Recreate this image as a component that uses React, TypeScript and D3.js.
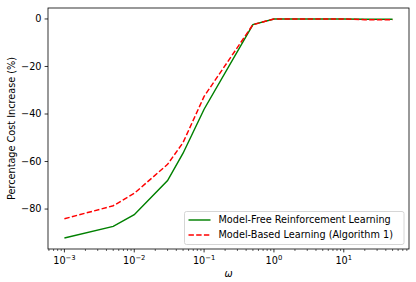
import React from 'react';
import * as d3 from 'd3';

// omega values (log axis)
const omegas = [0.001, 0.005, 0.01, 0.03, 0.05, 0.1, 0.5, 1, 5, 10, 20, 50];
// percentage cost increase per method
const modelFree = [-92.2, -87.3, -82.4, -68.0, -56.5, -38.0, -2.4, 0, 0, 0, -0.1, -0.1];
const modelBased = [-84.1, -78.6, -73.4, -61.2, -52.0, -32.6, -2.4, 0, 0, 0, -0.3, -0.3];
const seriesNames = ['Model-Free Reinforcement Learning', 'Model-Based Learning (Algorithm 1)'];
const yTicks = [0, -20, -40, -60, -80];
const xExps = [-3, -2, -1, 0, 1];

const width = 416;
const height = 282;
const left = 48, right = 409, top = 8, bottom = 249;
const font = 'DejaVu Sans';

// matplotlib style 5% margins in log space
const lx = [Math.log10(0.001), Math.log10(50)];
const lpad = (lx[1] - lx[0]) * 0.05;
const x = d3.scaleLog()
    .domain([Math.pow(10, lx[0] - lpad), Math.pow(10, lx[1] + lpad)])
    .range([left, right]);

const ymin = d3.min(modelFree)!, ymax = 0;
const ypad = (ymax - ymin) * 0.05;
const y = d3.scaleLinear()
    .domain([ymin - ypad, ymax + ypad])
    .range([bottom, top]);

const line = d3.line<[number, number]>()
    .x(d => x(d[0]))
    .y(d => y(d[1]));

const minorTicks: number[] = [];
for (let e = -4; e <= 1; e++) {
    for (let m = 2; m <= 9; m++) {
        const v = m * Math.pow(10, e);
        if (v >= x.domain()[0] && v <= x.domain()[1]) minorTicks.push(v);
    }
}

const minus = (n: number) => (n < 0 ? '\u2212' + Math.abs(n) : String(n));

const App = () => {
    const greenPts = omegas.map((o, i) => [o, modelFree[i]] as [number, number]);
    const redPts = omegas.map((o, i) => [o, modelBased[i]] as [number, number]);

    return (
        <svg width={width} height={height} style={{ position: 'absolute', left: 0, top: 0 }}
            fontFamily={font}>
            <rect x={0} y={0} width={width} height={height} fill="white" />

            <path d={line(greenPts)!} fill="none" stroke="#008000" strokeWidth={1.45} />
            <path d={line(redPts)!} fill="none" stroke="#ff0000" strokeWidth={1.45}
                strokeDasharray="5.4,2.3" />

            {/* frame */}
            <rect x={left} y={top} width={right - left} height={bottom - top}
                fill="none" stroke="black" strokeWidth={0.8} />

            {/* y ticks */}
            {yTicks.map(t => (
                <g key={t}>
                    <line x1={left - 3.4} x2={left} y1={y(t)} y2={y(t)} stroke="black" strokeWidth={0.8} />
                    <text x={left - 6.5} y={y(t)} dy="0.35em" textAnchor="end" fontSize={9.7}>{minus(t)}</text>
                </g>
            ))}

            {/* x ticks */}
            {minorTicks.map(t => (
                <line key={t} x1={x(t)} x2={x(t)} y1={bottom} y2={bottom + 2} stroke="black" strokeWidth={0.6} />
            ))}
            {xExps.map(e => (
                <g key={e}>
                    <line x1={x(Math.pow(10, e))} x2={x(Math.pow(10, e))} y1={bottom} y2={bottom + 3.4}
                        stroke="black" strokeWidth={0.8} />
                    <text x={x(Math.pow(10, e))} y={263.5} textAnchor="middle" fontSize={9.7}>
                        10<tspan fontSize={6.8} dy={-4}>{minus(e)}</tspan>
                    </text>
                </g>
            ))}

            {/* axis labels */}
            <text x={(left + right) / 2} y={277} textAnchor="middle" fontSize={9.7} fontStyle="italic">ω</text>
            <text transform={`translate(15,${(top + bottom) / 2}) rotate(-90)`} textAnchor="middle"
                fontSize={9.7}>Percentage Cost Increase (%)</text>

            {/* legend */}
            <rect x={184.5} y={211.5} width={219.5} height={33} rx={2} fill="white" fillOpacity={0.8}
                stroke="#cccccc" strokeWidth={0.8} />
            <line x1={188.5} x2={210.5} y1={220} y2={220} stroke="#008000" strokeWidth={1.45} />
            <line x1={188.5} x2={210.5} y1={235} y2={235} stroke="#ff0000" strokeWidth={1.45}
                strokeDasharray="5.4,2.3" />
            <text x={218.5} y={220} dy="0.35em" fontSize={9.7}>{seriesNames[0]}</text>
            <text x={218.5} y={235} dy="0.35em" fontSize={9.7}>{seriesNames[1]}</text>
        </svg>
    );
};

export default App;
